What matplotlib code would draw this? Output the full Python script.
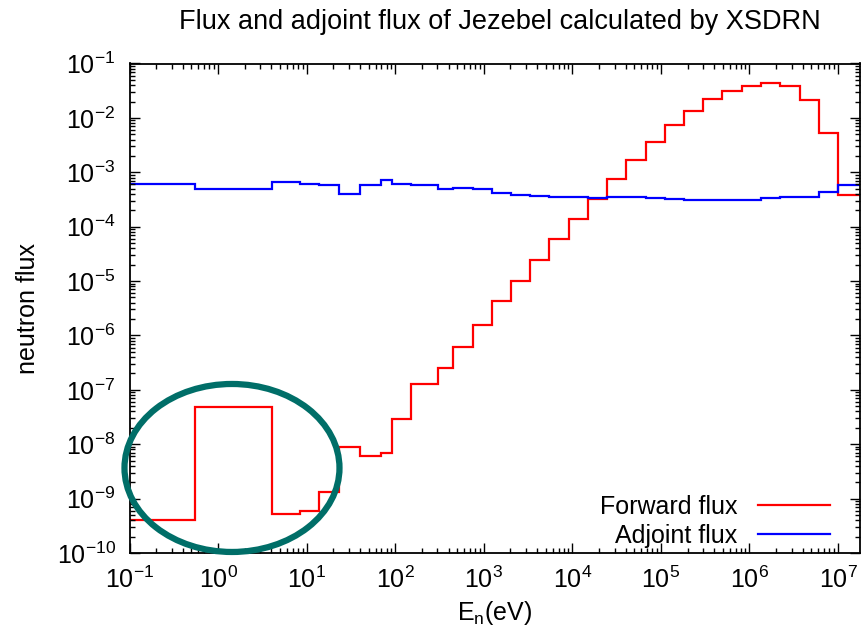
import matplotlib
matplotlib.use("Agg")
import matplotlib.pyplot as plt
from matplotlib.patches import Ellipse
from matplotlib.lines import Line2D
from matplotlib.ticker import LogLocator, LogFormatterMathtext, NullFormatter

plt.rcParams['font.family'] = ['Liberation Sans', 'DejaVu Sans']
plt.rcParams['mathtext.fontset'] = 'custom'
plt.rcParams['mathtext.rm'] = 'Liberation Sans'
plt.rcParams['mathtext.it'] = 'Liberation Sans:italic'
plt.rcParams['mathtext.bf'] = 'Liberation Sans:bold'

# Energy group boundaries (eV)
edges = [0.1, 0.55, 4.05, 8.45, 13.8, 23, 40, 68.8, 92, 149, 302, 454, 748,
         1234, 2030, 3345, 5510, 9090, 14980, 24700, 40700, 67100, 110700,
         182500, 301000, 496000, 818000, 1.35e6, 2.23e6, 3.68e6, 6.07e6,
         1.0e7, 2.0e7]

forward_flux = [4.0e-10, 4.8e-8, 5.2e-10, 5.8e-10, 1.3e-9, 9.0e-9, 6.1e-9,
                6.8e-9, 2.9e-8, 1.28e-7, 2.5e-7, 6.2e-7, 1.55e-6, 4.37e-6,
                1.02e-5, 2.45e-5, 5.9e-5, 1.37e-4, 3.2e-4, 7.5e-4, 1.68e-3,
                3.6e-3, 7.3e-3, 1.36e-2, 2.22e-2, 3.12e-2, 3.86e-2, 4.4e-2,
                3.86e-2, 2.1e-2, 5.25e-3, 3.83e-4]

adjoint_flux = [6.1e-4, 4.93e-4, 6.55e-4, 6.1e-4, 5.9e-4, 4.05e-4, 5.9e-4,
                7.2e-4, 6.0e-4, 5.9e-4, 4.9e-4, 5.1e-4, 4.9e-4, 4.1e-4,
                3.9e-4, 3.7e-4, 3.56e-4, 3.5e-4, 3.42e-4, 3.52e-4, 3.52e-4,
                3.4e-4, 3.25e-4, 3.1e-4, 3.05e-4, 3.05e-4, 3.15e-4, 3.4e-4,
                3.5e-4, 3.45e-4, 4.4e-4, 5.76e-4]

labels = ["Forward flux", "Adjoint flux"]
title = "Flux and adjoint flux of Jezebel calculated by XSDRN"

W, H = 861, 638
fig = plt.figure(figsize=(W / 100, H / 100), dpi=100)
L, R, T, B = 129.5, 860.0, 63.5, 553.0
ax = fig.add_axes([L / W, 1 - B / H, (R - L) / W, (B - T) / H])

ax.stairs(forward_flux, edges, color='#ff0000', lw=1.6, baseline=None)
ax.stairs(adjoint_flux, edges, color='#0000ff', lw=1.6, baseline=None)

ax.set_xscale('log')
ax.set_yscale('log')
ax.set_xlim(0.1, 10 ** (7 + 22 / 88.6))
ax.set_ylim(1e-10, 1e-1)

fs = 18
ax.xaxis.set_major_locator(LogLocator(base=10, numticks=20))
ax.xaxis.set_minor_locator(LogLocator(base=10, subs=range(2, 10), numticks=100))
ax.yaxis.set_major_locator(LogLocator(base=10, numticks=20))
ax.yaxis.set_minor_locator(LogLocator(base=10, subs=range(2, 10), numticks=100))
ax.xaxis.set_major_formatter(LogFormatterMathtext())
ax.yaxis.set_major_formatter(LogFormatterMathtext())
ax.xaxis.set_minor_formatter(NullFormatter())
ax.yaxis.set_minor_formatter(NullFormatter())
ax.tick_params(which='both', direction='in', top=True, right=True,
               labelsize=fs, width=1.0)
ax.tick_params(which='major', length=7, pad=10)
ax.tick_params(which='minor', length=3.5)
for s in ax.spines.values():
    s.set_linewidth(1.3)

ax.set_xlabel(r"E$_{\mathrm{n}}$(eV)", fontsize=fs, labelpad=4)
ax.set_ylabel("neutron flux", fontsize=fs, labelpad=12)
fig.text(0.5 * (181 + 818) / W, 1 - 22 / H, title, fontsize=19.5,
         ha='center', va='center')

handles = [Line2D([], [], color='#ff0000', lw=1.6),
           Line2D([], [], color='#0000ff', lw=1.6)]
ax.legend(handles, labels, loc='lower right', frameon=False,
          markerfirst=False, fontsize=fs, handlelength=2.9,
          bbox_to_anchor=(0.99, -0.035), labelspacing=0.2, handletextpad=0.8)

ell = Ellipse((0.1403, 0.1737), 0.2943, 0.3432, transform=ax.transAxes,
              fill=False, edgecolor='#006e68', lw=4.5, clip_on=False, zorder=5)
ax.add_patch(ell)

fig.savefig("out.png", dpi=100)
